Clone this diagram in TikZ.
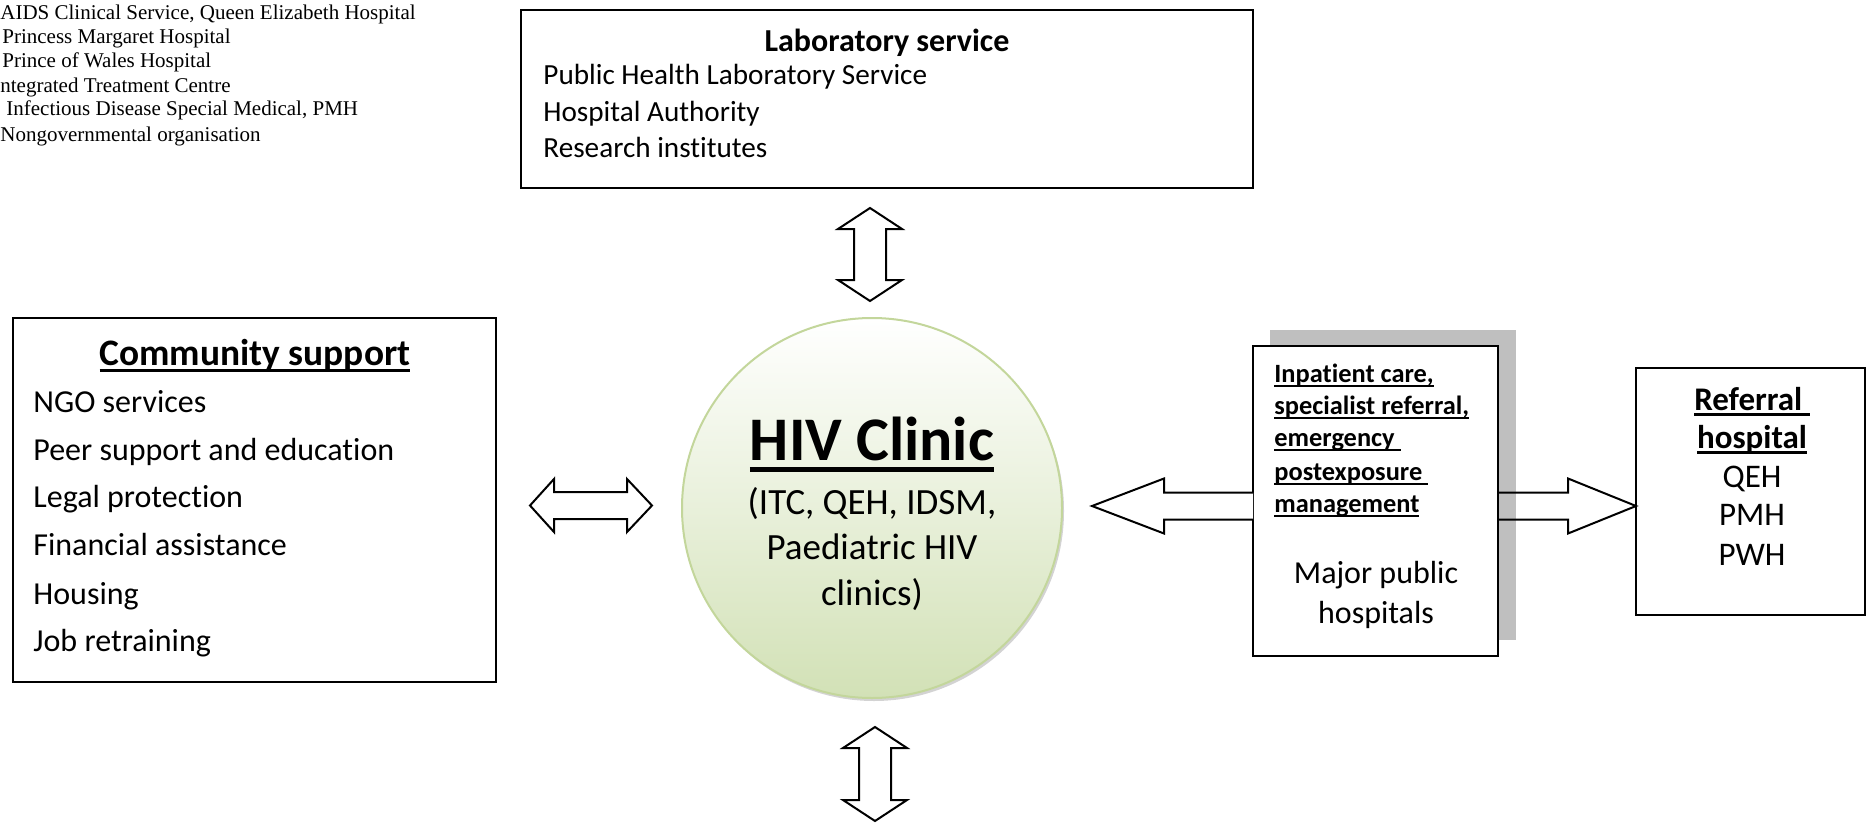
\documentclass[tikz,border=0pt]{standalone}
\usepackage{fontspec}
\setmainfont{Carlito}[Ligatures=NoCommon]
\newfontfamily\legendfont{Liberation Serif}
\usetikzlibrary{shadows}
\definecolor{ringgreen}{RGB}{195,214,155}
\definecolor{fillgreen}{RGB}{210,225,182}
\definecolor{shadowgrey}{RGB}{191,191,191}
\newcommand\ulin[1]{\setbox0\hbox{#1}\rlap{\rule[-0.19em]{\wd0}{0.085em}}\box0}
\tikzset{
  box/.style={draw=black, line width=1pt, fill=white, inner sep=0pt},
  blockarrow/.style={draw=black, line width=1pt, line join=miter},
  legend/.style={anchor=base west, inner sep=0pt, font=\legendfont\fontsize{10.5}{12}\selectfont},
  labtxt/.style={anchor=base west, inner sep=0pt, font=\fontsize{14.6}{17}\selectfont},
  labtitle/.style={anchor=base, inner sep=0pt, font=\bfseries\fontsize{16}{19}\selectfont},
  comtxt/.style={anchor=base west, inner sep=0pt, font=\fontsize{16}{19}\selectfont},
  comtitle/.style={anchor=base, inner sep=0pt, font=\bfseries\fontsize{18.7}{22}\selectfont},
  hivtitle/.style={anchor=base, inner sep=0pt, font=\bfseries\fontsize{31}{36}\selectfont},
  hivtxt/.style={anchor=base, inner sep=0pt, font=\fontsize{18.5}{22}\selectfont},
  hosptxt/.style={anchor=base west, inner sep=0pt, font=\bfseries\fontsize{13.2}{16}\selectfont},
  hospmain/.style={anchor=base, inner sep=0pt, font=\fontsize{16}{19}\selectfont},
  reftxt/.style={anchor=base, inner sep=0pt, font=\fontsize{16.5}{19}\selectfont},
  reftitle/.style={anchor=base, inner sep=0pt, font=\bfseries\fontsize{16.5}{19}\selectfont},
}
\begin{document}
\begin{tikzpicture}[x=0.5pt,y=-0.5pt]
\useasboundingbox (0,0) rectangle (1866,824);

% legend
\node[legend] (lg1) at (0,20)   {AIDS Clinical Service, Queen Elizabeth Hospital};
\node[legend] (lg2) at (2,44)   {Princess Margaret Hospital};
\node[legend] (lg3) at (2,68)   {Prince of Wales Hospital};
\node[legend] (lg4) at (0,92)   {ntegrated Treatment Centre};
\node[legend] (lg5) at (6,116)  {Infectious Disease Special Medical, PMH};
\node[legend] (lg6) at (0,141)  {Nongovernmental organisation};

% laboratory box
\node[box, minimum width=366pt, minimum height=89pt] (lab) at (887,99) {};
\node[labtitle] (labT) at (887,51.5) {Laboratory service};
\node[labtxt] (lab1) at (543,85)  {Public Health Laboratory Service};
\node[labtxt] (lab2) at (543,121) {Hospital Authority};
\node[labtxt] (lab3) at (543,157) {Research institutes};

% community box
\node[box, minimum width=241.5pt, minimum height=182pt] (com) at (254.5,500) {};
\node[comtitle] (comT) at (255,365) {\ulin{Community support}};
\node[comtxt] (com1) at (33,412) {NGO services};
\node[comtxt] (com2) at (33,460) {Peer support and education};
\node[comtxt] (com3) at (33,507) {Legal protection};
\node[comtxt] (com4) at (33,555) {Financial assistance};
\node[comtxt] (com5) at (33,604) {Housing};
\node[comtxt] (com6) at (33,651) {Job retraining};

% HIV clinic circle
\node[circle, draw=ringgreen, line width=1pt, top color=white, bottom color=fillgreen,
      minimum size=190pt, inner sep=0pt,
      drop shadow={shadow xshift=1pt, shadow yshift=-1.5pt, opacity=0.35}] (hiv) at (872,508) {};
\node[hivtitle] (hivT) at (872,460) {\ulin{HIV Clinic}};
\node[hivtxt] (hiv1) at (872,514) {(ITC, QEH, IDSM,};
\node[hivtxt] (hiv2) at (872,559) {Paediatric HIV};
\node[hivtxt] (hiv3) at (872,605) {clinics)};

% hospital box with shadow
\node[fill=shadowgrey, minimum width=123pt, minimum height=155pt, inner sep=0pt] (hshadow) at (1393,485) {};
\node[box, minimum width=122.5pt, minimum height=155pt] (hosp) at (1375.5,501) {};
\node[hosptxt] (hs1) at (1274,382) {\ulin{Inpatient care,}};
\node[hosptxt] (hs2) at (1274,414) {\ulin{specialist referral,}};
\node[hosptxt] (hs3) at (1274,446) {\ulin{emergency }};
\node[hosptxt] (hs4) at (1274,480) {\ulin{postexposure }};
\node[hosptxt] (hs5) at (1274,512) {\ulin{management}};
\node[hospmain] (hs6) at (1376,583) {Major public};
\node[hospmain] (hs7) at (1376,623) {hospitals};

% referral box
\node[box, minimum width=114.5pt, minimum height=123.5pt] (ref) at (1750.5,491.5) {};
\node[reftitle] (rf1) at (1752,410) {\ulin{Referral }};
\node[reftitle] (rf2) at (1752,448) {\ulin{hospital}};
\node[reftxt] (rf3) at (1752,487) {QEH};
\node[reftxt] (rf4) at (1752,525) {PMH};
\node[reftxt] (rf5) at (1752,565) {PWH};

% block arrows
% lab <-> clinic
\draw[blockarrow, fill=white] (870,208) -- (902,229) -- (886,229) -- (886,280) -- (902,280) -- (870,301)
  -- (838,280) -- (854,280) -- (854,229) -- (838,229) -- cycle;
% clinic <-> (below)
\draw[blockarrow, fill=white] (875,727) -- (907,748) -- (891,748) -- (891,800) -- (907,800) -- (875,821)
  -- (843,800) -- (859,800) -- (859,748) -- (843,748) -- cycle;
% community <-> clinic
\draw[blockarrow, fill=white] (530,505.5) -- (554,479) -- (554,492) -- (627,492) -- (627,479) -- (652,505.5)
  -- (627,532) -- (627,519) -- (554,519) -- (554,532) -- cycle;
% hospital -> clinic
\coordinate (hl1) at (1253,492.5);
\coordinate (hl2) at (1253,519.5);
\draw[blockarrow, fill=white] (hl1) -- (1164,492.5) -- (1164,478.5) -- (1092,506) -- (1164,533.5) -- (1164,519.5) -- (hl2);
% hospital -> referral
\coordinate (hr1) at (1498,492.5);
\coordinate (hr2) at (1498,519.5);
\coordinate (rtip) at (1636,506);
\draw[blockarrow] (hr1) -- (1568,492.5) -- (1568,478.5) -- (rtip) -- (1568,533.5) -- (1568,519.5) -- (hr2);
\end{tikzpicture}
\end{document}
